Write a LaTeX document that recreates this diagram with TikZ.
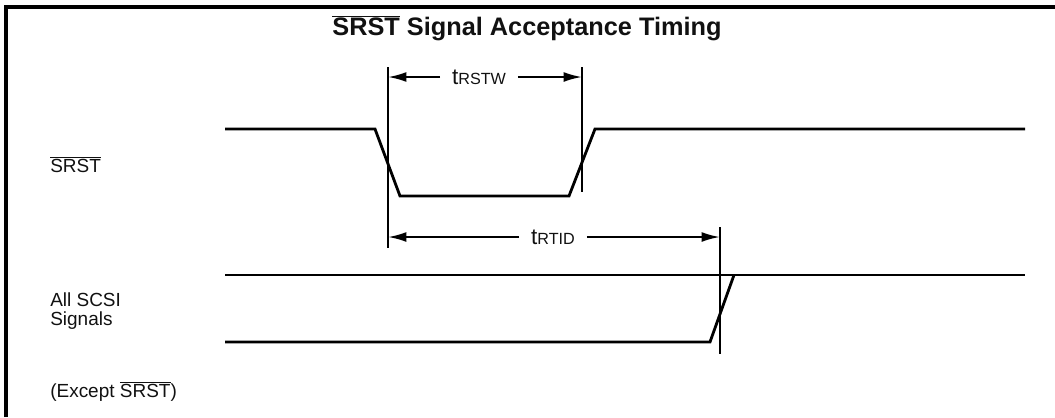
\documentclass[tikz,border=0pt]{standalone}
\usepackage{fontspec}
\setmainfont{Liberation Sans}
\usetikzlibrary{positioning, arrows.meta}
\definecolor{linea}{HTML}{000000}
\definecolor{texto}{HTML}{111111}
\newcommand{\nsrst}{$\overline{\mbox{SRST}}$}

\begin{document}
\begin{tikzpicture}[x=0.025cm, y=-0.025cm, font=\fontsize{13.5}{13.5}\selectfont,
		senal/.style={linea, line width=2pt, line join=miter},
		marca/.style={linea, line width=1.8pt},
		cota/.style={linea, line width=1.5pt, -{Latex[length=13pt, width=7pt]}, shorten <=5pt},
		etiqueta/.style={text=texto, anchor=west, align=left, inner sep=0pt}]
	\useasboundingbox (0,0) rectangle (1055,417);
	% marco
	\draw[linea, line width=2.2pt] (6,417) -- (6,7) -- (1055,7);
	\node[text=texto, font=\fontsize{18}{21}\selectfont\bfseries] (titulo) at (527,28) {\nsrst{} Signal Acceptance Timing};
	% nombres de las senales
	\node[etiqueta] (srst) at (50,165) {\nsrst};
	\node[etiqueta] (scsi) at (50,311) {All SCSI\\Signals};
	\node[etiqueta] (excepto) at (50,391) {(Except \nsrst)};
	% formas de onda
	\draw[senal] (225,129) -- (375,129) -- (400,196) -- (569,196) -- (595,129) -- (1025,129);
	\draw[senal] (225,275) -- (1025,275);
	\draw[senal] (225,342) -- (710,342) -- (734,275);
	% marcas de tiempo
	\coordinate (a1) at (388,67);  \coordinate (a2) at (388,248);
	\coordinate (b1) at (582,67);  \coordinate (b2) at (582,192);
	\coordinate (c1) at (720,227); \coordinate (c2) at (720,354);
	\foreach \p/\q in {a1/a2, b1/b2, c1/c2} {
		\draw[marca] (\p) -- (\q);
	}
	\node[text=texto, font=\fontsize{16}{16}\selectfont] (trstw) at (479,77) {t{\fontsize{11.5}{11.5}\selectfont RSTW}};
	\node[text=texto, font=\fontsize{16}{16}\selectfont] (trtid) at (553,237) {t{\fontsize{11.5}{11.5}\selectfont RTID}};
	\draw[cota] (trstw.west) -- (a1 |- trstw);
	\draw[cota] (trstw.east) -- (b1 |- trstw);
	\draw[cota] (trtid.west) -- (a1 |- trtid);
	\draw[cota] (trtid.east) -- (c1 |- trtid);
\end{tikzpicture}
\end{document}
